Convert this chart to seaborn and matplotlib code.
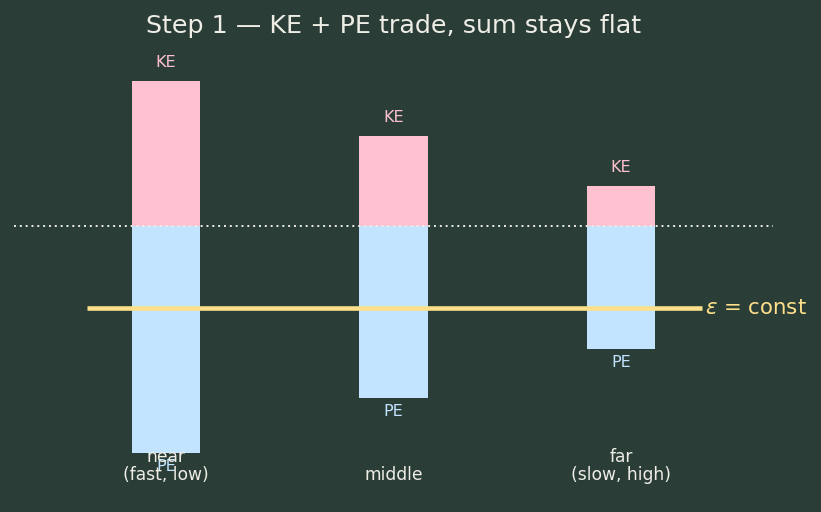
import numpy as np
import pandas as pd
import matplotlib
matplotlib.use("Agg")
import matplotlib.pyplot as plt
import seaborn as sns

# energies in units where the total energy is -1
positions = ["near\n(fast, low)", "middle", "far\n(slow, high)"]
ke = [1.77, 1.10, 0.49]
pe = [-2.77, -2.10, -1.50]
total = -1.0

bg = "#2b3d37"
pink = "#ffc0d0"
blue = "#c2e4ff"
gold = "#ffe08a"
fg = "#eeeee6"

sns.set_theme(style="white")
plt.rcParams['font.family'] = ['DejaVu Sans']

fig = plt.figure(figsize=(8.21, 5.12), dpi=100, facecolor=bg)
# axes spans pixel rows 40..500 from the top
ax = fig.add_axes([14/821, 12/512, (773-14)/821, 460/512])
ax.set_facecolor(bg)

df = pd.DataFrame({"pos": positions, "KE": ke, "PE": pe})
sns.barplot(data=df, x="pos", y="KE", color=pink, width=0.3, saturation=1,
            linewidth=0, edgecolor="none", ax=ax)
sns.barplot(data=df, x="pos", y="PE", color=blue, width=0.3, saturation=1,
            linewidth=0, edgecolor="none", ax=ax)

ax.axhline(0, color=fg, lw=1.4, ls=(0, (1, 2)))
ax.hlines(total, -0.345, 2.355, color=gold, lw=3.3)
ax.text(2.37, total, r"$\varepsilon$ = const", color=gold, fontsize=15.3, va="center", ha="left")

for i in range(len(positions)):
    ax.text(i, ke[i] + 0.13, "KE", color=pink, fontsize=11.5, ha="center", va="bottom")
    ax.text(i, pe[i] - 0.075, "PE", color=blue, fontsize=11.5, ha="center", va="top")
    ax.text(i, -3.15, positions[i], color=fg, fontsize=12.3, ha="center", va="bottom",
            linespacing=1.05)

ax.set_xlim(-0.668, 2.668)
ax.set_ylim(-(500-226)/82, (226-40)/82)
ax.set_xticks([])
ax.set_yticks([])
ax.set_xlabel("")
ax.set_ylabel("")
for s in ax.spines.values():
    s.set_visible(False)

fig.text(394/821, 1 - 26/512, "Step 1 \u2014 KE + PE trade, sum stays flat", color=fg,
         fontsize=18.3, ha="center", va="center")

fig.savefig("out.png", dpi=100, facecolor=bg)
